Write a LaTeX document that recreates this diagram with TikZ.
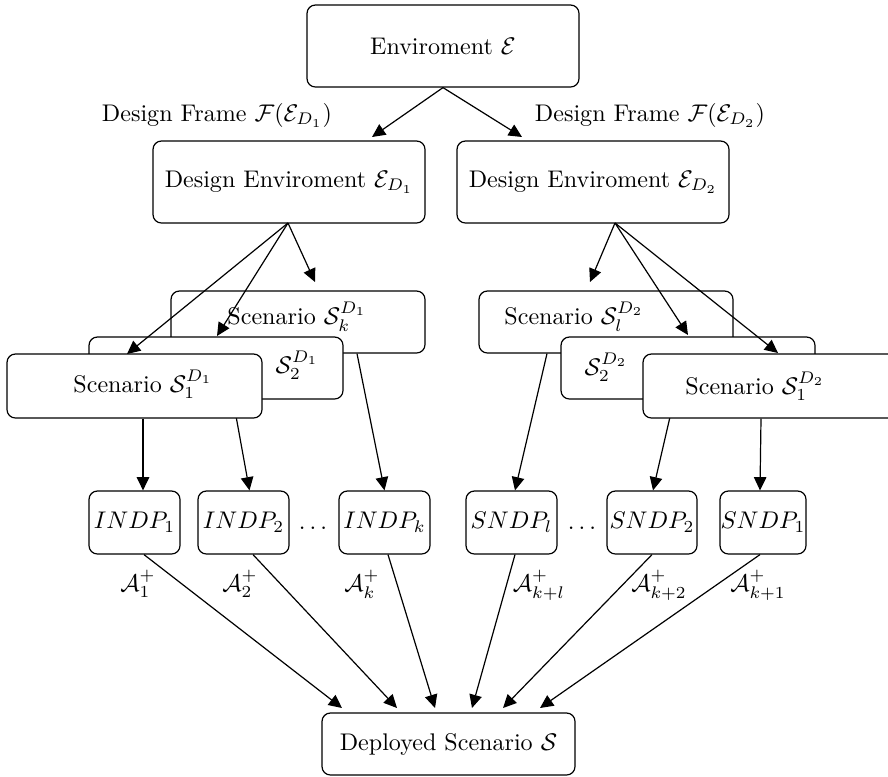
\documentclass[tikz,border=0pt]{standalone}
\usetikzlibrary{arrows.meta}
\begin{document}
\begin{tikzpicture}[x=0.0146cm, y=-0.0146cm,
  box/.style 2 args={draw, line width=0.5pt, rounded corners=3.5pt, fill=white,
    inner sep=0pt, minimum width=#1*0.0146cm, minimum height=#2*0.0146cm},
  txt/.style={anchor=base, inner sep=0pt},
  link/.style={line width=0.5pt},
  arr/.style={line width=0.5pt, -{Triangle[length=5.5pt,width=5.2pt]}}]
\useasboundingbox (0,0) rectangle (888,776);

% ---- environment and design environments
\node[box={272}{82}] (env) at (443,46) {Enviroment $\mathcal{E}$};
\node[box={272}{82}] (d1) at (289,182) {Design Enviroment $\mathcal{E}_{D_1}$};
\node[box={272}{82}] (d2) at (593,182) {Design Enviroment $\mathcal{E}_{D_2}$};
\node[txt] (f1) at (217,121) {Design Frame $\mathcal{F}(\mathcal{E}_{D_1})$};
\node[txt] (f2) at (650,121) {Design Frame $\mathcal{F}(\mathcal{E}_{D_2})$};
\coordinate (d1in) at (372,137);
\coordinate (d2in) at (522,137);
\draw[arr] (env.south) -- (d1in);
\draw[arr] (env.south) -- (d2in);

% ---- design points and deployed scenario
\node[box={91}{63}] (i1) at (134.5,522.5) {$INDP_1$};
\node[box={91}{63}] (i2) at (243.5,522.5) {$INDP_2$};
\node[box={91}{63}] (ik) at (384.5,522.5) {$INDP_k$};
\node[box={91}{63}] (sn3) at (511.5,522.5) {$SNDP_l$};
\node[box={90}{63}] (sn2) at (652,522.5) {$SNDP_2$};
\node[box={86}{63}] (sn1) at (763,522.5) {$SNDP_1$};
\node[txt] (dotsl) at (313,529) {$\dots$};
\node[txt] (dotsr) at (582,529) {$\dots$};
\node[box={253}{62}] (dep) at (448.5,744) {Deployed Scenario $\mathcal{S}$};

% ---- scenarios of the first design environment (back to front)
\node[box={254}{62}] (sk) at (298,322) {};
\node[txt] (skt) at (297,324) {Scenario $\mathcal{S}_k^{D_1}$};
\draw[arr] ([xshift=59*0.0146cm]sk.south) -- (ik.north);
\node[box={254}{62}] (s2a) at (216,368) {};
\node[txt] (s2at) at (297,373) {$\mathcal{S}_2^{D_1}$};
\draw[arr] ([xshift=17*0.0146cm]s2a.south) -- ([xshift=6*0.0146cm]i2.north);
\node[box={255}{64}] (s1a) at (134.5,386) {};
\node[txt] (s1at) at (143,392) {Scenario $\mathcal{S}_1^{D_1}$};
\draw[arr] ([xshift=8.5*0.0146cm]s1a.south) -- ([xshift=8.5*0.0146cm]i1.north);

% ---- scenarios of the second design environment (back to front)
\node[box={254}{62}] (sl) at (606,322) {};
\node[txt] (slt) at (574,324) {Scenario $\mathcal{S}_l^{D_2}$};
\draw[arr] ([xshift=-59*0.0146cm]sl.south) -- ([xshift=3.5*0.0146cm]sn3.north);
\node[box={254}{62}] (s2b) at (688,368) {};
\node[txt] (s2bt) at (606,375) {$\mathcal{S}_2^{D_2}$};
\draw[arr] ([xshift=-14*0.0146cm]s2b.south) -- ([xshift=1*0.0146cm]sn2.north);
\node[box={254}{64}] (s1b) at (770,386) {};
\node[txt] (s1bt) at (755,394) {Scenario $\mathcal{S}_1^{D_2}$};
\draw[arr] ([xshift=-9*0.0146cm]s1b.south) -- ([xshift=-3*0.0146cm]sn1.north);

% ---- design environments to their scenarios
\coordinate (o1) at (288,223);
\coordinate (o2) at (615,223);
\coordinate (tk) at (315,282);
\coordinate (t2a) at (217,336);
\coordinate (t1a) at (127,354);
\coordinate (tl) at (590,282);
\coordinate (t2b) at (688,335);
\coordinate (t1b) at (778,353);
\draw[arr] (o1) -- (t1a);
\draw[arr] (o1) -- (t2a);
\draw[arr] (o1) -- (tk);
\draw[arr] (o2) -- (tl);
\draw[arr] (o2) -- (t2b);
\draw[arr] (o2) -- (t1b);

% ---- adapted design points into the deployed scenario
\node[txt] (a1) at (138,591) {$\mathcal{A}_1^+$};
\node[txt] (a2) at (240,591) {$\mathcal{A}_2^+$};
\node[txt] (ak) at (362,591) {$\mathcal{A}_k^+$};
\node[txt] (akl) at (539,591) {$\mathcal{A}_{k+l}^+$};
\node[txt] (ak2) at (659,591) {$\mathcal{A}_{k+2}^+$};
\node[txt] (ak1) at (758,591) {$\mathcal{A}_{k+1}^+$};
\coordinate (e1) at (342,708);
\coordinate (e2) at (397,708);
\coordinate (e3) at (435,708);
\coordinate (e4) at (472,708);
\coordinate (e5) at (503,708);
\coordinate (e6) at (540,708);
\draw[arr] ([xshift=9.5*0.0146cm]i1.south) -- (e1);
\draw[arr] ([xshift=9.5*0.0146cm]i2.south) -- (e2);
\draw[arr] ([xshift=3.5*0.0146cm]ik.south) -- (e3);
\draw[arr] ([xshift=3.5*0.0146cm]sn3.south) -- (e4);
\draw[arr] (sn2.south) -- (e5);
\draw[arr] ([xshift=-3*0.0146cm]sn1.south) -- (e6);
\end{tikzpicture}
\end{document}
